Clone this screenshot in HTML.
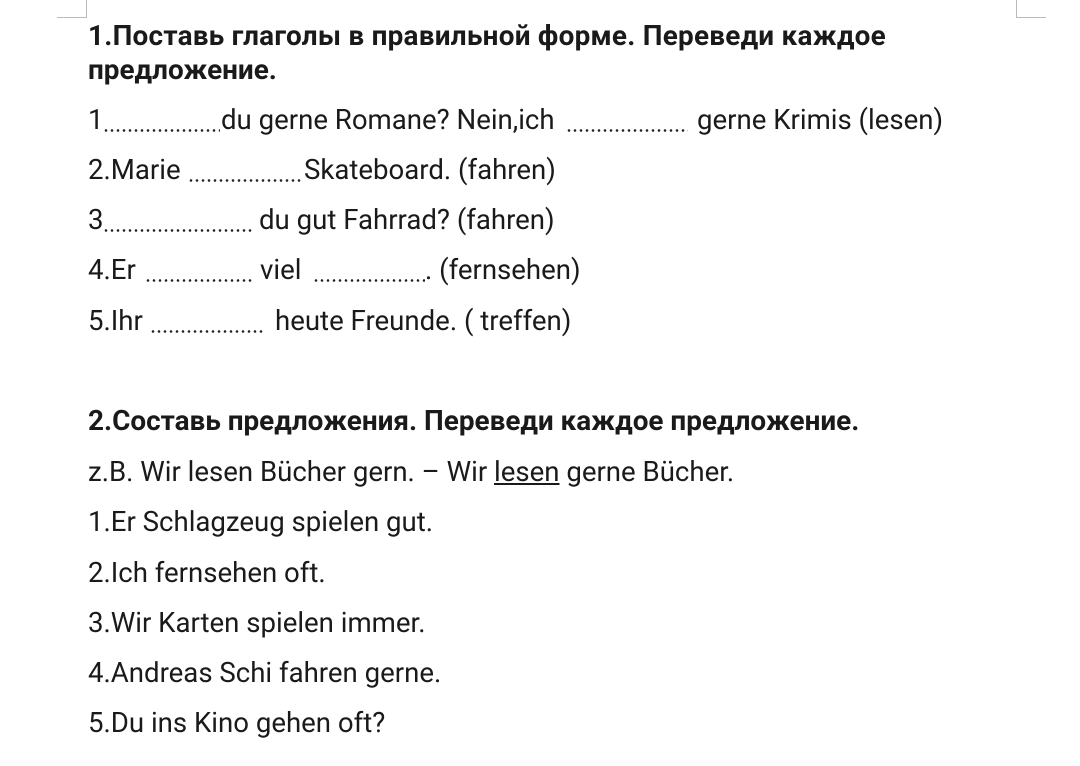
<!DOCTYPE html>
<html><head><meta charset="utf-8"><style>
body{margin:0;background:#fff;width:1080px;height:766px;position:relative;overflow:hidden;font-family:"Roboto","Liberation Sans","DejaVu Sans",sans-serif;color:#1a1a1a}
.l{position:absolute;font-size:27.6px;line-height:30px;white-space:nowrap}
.b{font-weight:bold;font-size:27.9px}
.d{position:absolute;height:3px;background:radial-gradient(circle,#222 1.1px,transparent 1.5px) 0 0/6px 3px}
.m{position:absolute;background:#bbb}
</style></head><body>
<div class="m" style="left:57px;top:17px;width:30px;height:1px"></div>
<div class="m" style="left:86px;top:0;width:1px;height:18px"></div>
<div class="m" style="left:1016px;top:0;width:1px;height:18px"></div>
<div class="m" style="left:1016px;top:17px;width:30px;height:1px"></div>

<div class="l b" style="left:88px;top:21px;letter-spacing:0.25px">1.Поставь глаголы в правильной форме. Переведи каждое</div>
<div class="l b" style="left:88px;top:55px">предложение.</div>

<div class="l" style="left:88px;top:105px">1</div><div class="d" style="left:103px;top:129px;width:117px"></div>
<div class="l" style="left:221px;top:105px">du gerne Romane? Nein,ich</div><div class="d" style="left:566px;top:129px;width:122px"></div>
<div class="l" style="left:697px;top:105px">gerne Krimis (lesen)</div>

<div class="l" style="left:88px;top:155px">2.Marie</div><div class="d" style="left:188px;top:179px;width:115px"></div>
<div class="l" style="left:304px;top:155px">Skateboard. (fahren)</div>

<div class="l" style="left:88px;top:205px">3</div><div class="d" style="left:103px;top:229px;width:149px"></div>
<div class="l" style="left:259px;top:205px">du gut Fahrrad? (fahren)</div>

<div class="l" style="left:88px;top:255px">4.Er</div><div class="d" style="left:145px;top:279px;width:107px"></div>
<div class="l" style="left:260px;top:255px">viel</div><div class="d" style="left:313px;top:279px;width:112px"></div>
<div class="l" style="left:425px;top:255px">. (fernsehen)</div>

<div class="l" style="left:88px;top:306px">5.Ihr</div><div class="d" style="left:150px;top:330px;width:115px"></div>
<div class="l" style="left:275px;top:306px">heute Freunde. ( treffen)</div>

<div class="l b" style="left:88px;top:406px">2.Составь предложения. Переведи каждое предложение.</div>
<div class="l" style="left:88px;top:457px">z.B. Wir lesen Bücher gern. – Wir <u>lesen</u> gerne Bücher.</div>
<div class="l" style="left:88px;top:507px">1.Er Schlagzeug spielen gut.</div>
<div class="l" style="left:88px;top:558px">2.Ich fernsehen oft.</div>
<div class="l" style="left:88px;top:608px">3.Wir Karten spielen immer.</div>
<div class="l" style="left:88px;top:658px">4.Andreas Schi fahren gerne.</div>
<div class="l" style="left:88px;top:708px">5.Du ins Kino gehen oft?</div>
</body></html>
